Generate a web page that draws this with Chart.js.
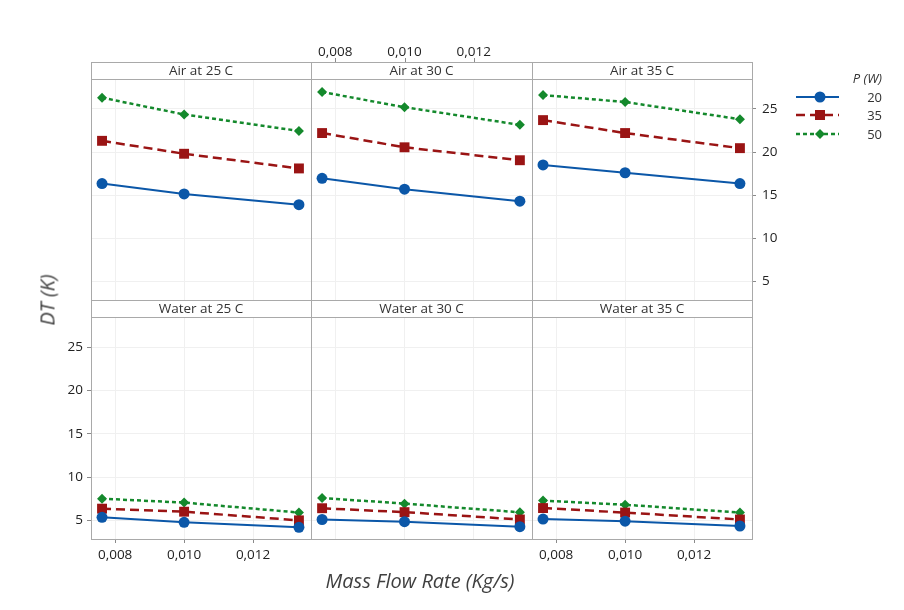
<!DOCTYPE html>
<html>
<head>
<meta charset="utf-8">
<script src="https://cdn.jsdelivr.net/npm/chart.js@4.4.1/dist/chart.umd.min.js"></script>
<style>
    body { margin: 0; background: #fff; font-family: "Open Sans", sans-serif; }
    #fig { position: relative; width: 904px; height: 610px; overflow: hidden; }
    #fig canvas { position: absolute; }
    .box { position: absolute; border-left: 1px solid #a9a9a9; border-top: 1px solid #a9a9a9; box-sizing: border-box; pointer-events: none; }
    .strip { position: absolute; height: 18px; border-bottom: 1px solid #a9a9a9; box-sizing: border-box;
             text-align: center; font-size: 13.5px; line-height: 17px; color: #333; }
    .title { position: absolute; font-style: italic; color: #404040; white-space: nowrap; }
    .legend { position: absolute; left: 790px; top: 69px; width: 95px; font-size: 13px; color: #333; }
    .legend div { height: 18.5px; position: relative; }
    .legend span { position: absolute; right: 3px; top: 0; }
</style>
</head>
<body>
<div id="fig"></div>
<script>
// valores
const flowRate = [0.00762, 0.010, 0.01333];
const xTicks = [0.008, 0.010, 0.012];
const yTicks = [5, 10, 15, 20, 25];
const potencias = ['20', '35', '50'];
const titulos = ['Air at 25 C', 'Air at 30 C', 'Air at 35 C', 'Water at 25 C', 'Water at 30 C', 'Water at 35 C'];

const dt20 = [
    [16.35, 15.15, 13.9],
    [16.95, 15.7, 14.3],
    [18.5, 17.6, 16.35],
    [5.35, 4.77, 4.2],
    [5.1, 4.85, 4.27],
    [5.15, 4.9, 4.35]
];
const dt35 = [
    [21.3, 19.8, 18.1],
    [22.2, 20.55, 19.05],
    [23.7, 22.2, 20.45],
    [6.35, 6.0, 5.0],
    [6.4, 5.95, 5.1],
    [6.42, 5.9, 5.1]
];
const dt50 = [
    [26.3, 24.35, 22.45],
    [26.95, 25.2, 23.15],
    [26.6, 25.8, 23.8],
    [7.5, 7.05, 5.9],
    [7.58, 6.93, 5.93],
    [7.28, 6.8, 5.9]
];

const colores = ['#0b57a8', '#9a1414', '#14892c'];
const estilos = [
    { dash: [], width: 2, point: 'circle', radius: 5.5 },
    { dash: [9, 5], width: 2.5, point: 'rect', radius: 7 },
    { dash: [4, 3], width: 2.5, point: 'rectRot', radius: 5 }
];

const X_MIN = 0.0073, X_MAX = 0.01368;
const Y_MIN = 2.85, Y_MAX = 28.35;

const colLeft = [91, 311, 532];
const colW = [220, 221, 220];
const stripTop = [62, 300];
const plotH = [220, 221];
const STRIP = 18, M = 50, T = 32, B = 40;

const paneles = [
    { col: 0, row: 0 },
    { col: 1, row: 0, top: true },
    { col: 2, row: 0, right: true },
    { col: 0, row: 1, left: true, bottom: true },
    { col: 1, row: 1 },
    { col: 2, row: 1, bottom: true }
];

const fig = document.getElementById('fig');
const fmtX = v => v.toFixed(3).replace('.', ',');
const fuenteTick = { family: 'Open Sans', size: 13.5 };

// marcas del eje superior (quedan por encima de la franja)
const marcasArriba = {
    id: 'marcasArriba',
    afterDraw(chart) {
        if (!chart.options.plugins.marcasArriba.show) return;
        const s = chart.scales.x2;
        const y0 = chart.chartArea.top - STRIP;
        const ctx = chart.ctx;
        ctx.save();
        ctx.strokeStyle = '#8a8a8a';
        ctx.lineWidth = 1;
        xTicks.forEach(v => {
            const px = Math.round(s.getPixelForValue(v)) + 0.5;
            ctx.beginPath();
            ctx.moveTo(px, y0 - 4);
            ctx.lineTo(px, y0);
            ctx.stroke();
        });
        ctx.restore();
    }
};

paneles.forEach((p, i) => {
    const left = colLeft[p.col], w = colW[p.col];
    const top = stripTop[p.row], h = plotH[p.row];

    // caja y franja del panel
    const box = document.createElement('div');
    box.className = 'box';
    box.style.cssText = `left:${left}px;top:${top}px;width:${w + 1}px;height:${h + STRIP + 1}px;`;
    fig.appendChild(box);
    const strip = document.createElement('div');
    strip.className = 'strip';
    strip.style.cssText = `left:${left}px;top:${top}px;width:${w}px;`;
    strip.textContent = titulos[i];
    fig.appendChild(strip);

    const canvas = document.createElement('canvas');
    canvas.width = w + 2 * M;
    canvas.height = h + STRIP + T + B;
    canvas.style.left = (left - M) + 'px';
    canvas.style.top = (top - T) + 'px';
    fig.insertBefore(canvas, fig.firstChild);

    const datasets = [dt20[i], dt35[i], dt50[i]].map((serie, k) => ({
        label: potencias[k],
        data: serie.map((v, j) => ({ x: flowRate[j], y: v })),
        borderColor: colores[k],
        backgroundColor: colores[k],
        borderWidth: estilos[k].width,
        borderDash: estilos[k].dash,
        pointStyle: estilos[k].point,
        pointRadius: estilos[k].radius,
        pointBorderWidth: 0,
        tension: 0
    }));

    new Chart(canvas.getContext('2d'), {
        type: 'line',
        data: { datasets: datasets },
        options: {
            responsive: false,
            animation: false,
            layout: { padding: 0 },
            plugins: { legend: { display: false }, tooltip: { enabled: false }, marcasArriba: { show: !!p.top } },
            scales: {
                x: {
                    type: 'linear', position: 'bottom', min: X_MIN, max: X_MAX,
                    afterBuildTicks: s => { s.ticks = xTicks.map(v => ({ value: v })); },
                    afterFit: s => { s.height = B; },
                    border: { display: false },
                    grid: { color: '#f0f0f0', drawTicks: !!p.bottom, tickLength: 4, tickColor: '#8a8a8a' },
                    ticks: { display: !!p.bottom, callback: fmtX, color: '#222', font: fuenteTick, padding: 4, maxRotation: 0, autoSkip: false }
                },
                x2: {
                    type: 'linear', position: 'top', min: X_MIN, max: X_MAX,
                    afterBuildTicks: s => { s.ticks = xTicks.map(v => ({ value: v })); },
                    afterFit: s => { s.height = T + STRIP; },
                    border: { display: false },
                    grid: { display: false, drawTicks: false },
                    ticks: { display: !!p.top, callback: fmtX, color: '#222', font: fuenteTick, padding: 20, maxRotation: 0, autoSkip: false }
                },
                y: {
                    type: 'linear', position: 'left', min: Y_MIN, max: Y_MAX,
                    afterBuildTicks: s => { s.ticks = yTicks.map(v => ({ value: v })); },
                    afterFit: s => { s.width = M; },
                    border: { display: false },
                    grid: { color: '#f0f0f0', drawTicks: !!p.left, tickLength: 4, tickColor: '#8a8a8a' },
                    ticks: { display: !!p.left, color: '#222', font: fuenteTick, padding: 4 }
                },
                y2: {
                    type: 'linear', position: 'right', min: Y_MIN, max: Y_MAX,
                    afterBuildTicks: s => { s.ticks = yTicks.map(v => ({ value: v })); },
                    afterFit: s => { s.width = M; },
                    border: { display: false },
                    grid: { display: !!p.right, drawOnChartArea: false, drawTicks: true, tickLength: 4, tickColor: '#8a8a8a' },
                    ticks: { display: !!p.right, color: '#222', font: fuenteTick, padding: 6 }
                }
            }
        },
        plugins: [marcasArriba]
    });
});

// cierre derecho e inferior del marco
const marco = document.createElement('div');
marco.style.cssText = 'position:absolute;left:91px;top:62px;width:662px;height:478px;border-right:1px solid #a9a9a9;border-bottom:1px solid #a9a9a9;box-sizing:border-box;pointer-events:none;';
fig.appendChild(marco);

// titulos de ejes
const ty = document.createElement('div');
ty.className = 'title';
ty.style.cssText = 'left:47px;top:300px;font-size:20px;transform:translate(-50%,-50%) rotate(-90deg);';
ty.textContent = 'DT (K)';
fig.appendChild(ty);
const tx = document.createElement('div');
tx.className = 'title';
tx.style.cssText = 'left:420px;top:580px;font-size:20px;transform:translate(-50%,-50%);';
tx.textContent = 'Mass Flow Rate (Kg/s)';
fig.appendChild(tx);

// leyenda
const leyenda = document.createElement('div');
leyenda.className = 'legend';
let html = '<div><span style="font-style:italic">P (W)</span></div>';
const marcas = [
    c => `<circle cx="25" cy="9" r="5.5" fill="${c}"/>`,
    c => `<rect x="20" y="4" width="10" height="10" fill="${c}"/>`,
    c => `<polygon points="25,4 30,9 25,14 20,9" fill="${c}"/>`
];
potencias.forEach((pw, k) => {
    html += `<div><svg width="44" height="18" style="position:absolute;left:5px;top:0">
        <line x1="1" y1="9" x2="44" y2="9" stroke="${colores[k]}" stroke-width="${estilos[k].width}" stroke-dasharray="${estilos[k].dash.join(',')}"/>
        ${marcas[k](colores[k])}</svg><span>${pw}</span></div>`;
});
leyenda.innerHTML = html;
fig.appendChild(leyenda);
</script>
</body>
</html>
